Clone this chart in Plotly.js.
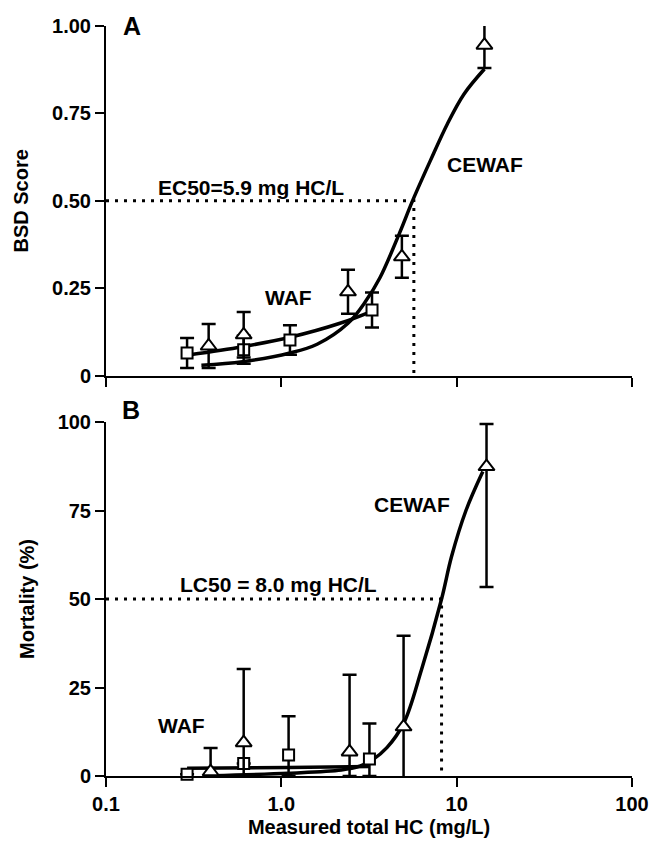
<!DOCTYPE html>
<html>
<head>
<meta charset="utf-8">
<script src="https://cdn.plot.ly/plotly-3.0.1.min.js"></script>
<style>html,body{margin:0;padding:0;background:#fff;}#chart{width:650px;height:844px;}</style>
</head>
<body>
<div id="chart"></div>
<script>
// ---------- Panel A : BSD score ----------
const wafA_x = [0.29, 0.61, 1.12, 3.29];
const wafA_y = [0.065, 0.074, 0.102, 0.188];
const wafA_err = [0.043, 0.04, 0.042, 0.05];

const cewafA_x = [0.385, 0.61, 2.4, 4.87, 14.4];
const cewafA_y = [0.085, 0.117, 0.24, 0.34, 0.945];
const cewafA_err = [0.063, 0.065, 0.063, 0.06, 0.065];

// fitted curves
const fitWafA_x = [0.3, 0.6, 1.12, 2.16, 3.3];
const fitWafA_y = [0.06, 0.083, 0.11, 0.15, 0.185];
const fitCewafA_x = [0.35, 0.6, 1.12, 1.6, 2.4, 3.0, 3.65, 4.74, 5.6, 7.08, 8.85, 11.0, 14.4];
const fitCewafA_y = [0.03, 0.04, 0.065, 0.09, 0.15, 0.21, 0.28, 0.41, 0.5, 0.615, 0.72, 0.805, 0.877];

const ec50 = 5.7;

// ---------- Panel B : Mortality ----------
const wafB_x = [0.29, 0.61, 1.1, 3.18];
const wafB_y = [0.5, 3.5, 5.9, 4.8];
const wafB_plus = [0, 0, 11, 10];
const wafB_minus = [0, 0, 5.9, 4.8];

const cewafB_x = [0.395, 0.61, 2.45, 4.98, 14.8];
const cewafB_y = [1.2, 9.4, 6.8, 13.9, 87.4];
const cewafB_plus = [6.7, 20.8, 21.8, 25.7, 12];
const cewafB_minus = [6.5, 9.4, 6.8, 18.5, 34];

const fitWafB_x = [0.29, 1.1, 3.2];
const fitWafB_y = [2.2, 2.4, 2.7];
const fitCewafB_x = [0.4, 1.1, 2.2, 2.8, 3.3, 4.0, 5.0, 6.3, 8.2, 9.35, 11.3, 14.1];
const fitCewafB_y = [0.1, 0.8, 1.7, 2.8, 4.5, 8, 15, 30, 50, 62, 75, 86];

const lc50 = 8.2;

const xTickVals = [0.1, 1, 10, 100];
const xTickText = ['0.1', '1.0', '10', '100'];
const yA_ticks = [0, 0.25, 0.5, 0.75, 1];
const yA_text = ['0', '0.25', '0.50', '0.75', '1.00'];
const yB_ticks = [0, 25, 50, 75, 100];
const yB_text = ['0', '25', '50', '75', '100'];

const FONT = 'Liberation Sans, Arial, sans-serif';
const bold = (s) => ({family: FONT, size: s, color: '#000', weight: 'bold'});

function errBar(plus, minus) {
  return {type: 'data', array: plus, arrayminus: minus, symmetric: false, visible: true,
          color: '#000', thickness: 2.5, width: 7};
}
function curve(x, y, xa, ya) {
  return {x: x, y: y, xaxis: xa, yaxis: ya, mode: 'lines', type: 'scatter',
          line: {color: '#000', width: 3.5, shape: 'spline', smoothing: 1}, hoverinfo: 'skip', showlegend: false};
}
function pts(x, y, plus, minus, sym, size, xa, ya) {
  return {x: x, y: y, xaxis: xa, yaxis: ya, mode: 'markers', type: 'scatter', cliponaxis: false,
          marker: {symbol: sym, size: size, color: '#fff', line: {color: '#000', width: 2}},
          error_y: errBar(plus, minus), showlegend: false};
}
const dotted = {color: '#000', width: 3, dash: '3px,6px'};

const traces = [
  {x: [0.1, ec50, ec50], y: [0.5, 0.5, 0], xaxis: 'x', yaxis: 'y', mode: 'lines', type: 'scatter', line: dotted, showlegend: false},
  curve(fitWafA_x, fitWafA_y, 'x', 'y'),
  curve(fitCewafA_x, fitCewafA_y, 'x', 'y'),
  pts(wafA_x, wafA_y, wafA_err, wafA_err, 'square', 11, 'x', 'y'),
  pts(cewafA_x, cewafA_y, cewafA_err, cewafA_err, 'triangle-up', 14, 'x', 'y'),
  {x: [0.1, lc50, lc50], y: [50, 50, 0], xaxis: 'x2', yaxis: 'y2', mode: 'lines', type: 'scatter', line: dotted, showlegend: false},
  curve(fitWafB_x, fitWafB_y, 'x2', 'y2'),
  curve(fitCewafB_x, fitCewafB_y, 'x2', 'y2'),
  pts(wafB_x, wafB_y, wafB_plus, wafB_minus, 'square', 11, 'x2', 'y2'),
  pts(cewafB_x, cewafB_y, cewafB_plus, cewafB_minus, 'triangle-up', 14, 'x2', 'y2')
];

const TF = 20;
const xCommon = {type: 'log', range: [-1, 2], showgrid: false, zeroline: false, showline: true,
  linecolor: '#000', linewidth: 2, ticks: 'outside', ticklen: 9, tickwidth: 2, tickcolor: '#000',
  tickmode: 'array', tickvals: xTickVals, ticktext: xTickText, tickfont: bold(TF)};
const yCommon = {showgrid: false, zeroline: false, showline: true, linecolor: '#000', linewidth: 2,
  ticks: 'outside', ticklen: 9, tickwidth: 2, tickcolor: '#000', tickmode: 'array', tickfont: bold(TF)};

const layout = {
  width: 650, height: 844,
  margin: {l: 106, r: 18, t: 26, b: 68},
  paper_bgcolor: '#fff', plot_bgcolor: '#fff',
  showlegend: false,
  font: {family: FONT, color: '#000'},
  xaxis: Object.assign({}, xCommon, {anchor: 'y', showticklabels: false}),
  yaxis: Object.assign({}, yCommon, {domain: [0.5337, 1], range: [0, 1], tickvals: yA_ticks, ticktext: yA_text,
    title: {text: 'BSD Score', font: bold(20), standoff: 18}}),
  xaxis2: Object.assign({}, xCommon, {anchor: 'y2',
    title: {text: 'Measured total HC (mg/L)', font: bold(20), standoff: 6}}),
  yaxis2: Object.assign({}, yCommon, {domain: [0, 0.472], range: [0, 100], tickvals: yB_ticks, ticktext: yB_text,
    title: {text: 'Mortality (%)', font: bold(20), standoff: 18}}),
  annotations: [
    {text: 'A', xref: 'paper', yref: 'paper', x: 0.05, y: 1.0, showarrow: false, font: bold(25), xanchor: 'center', yanchor: 'middle'},
    {text: 'EC50=5.9 mg HC/L', xref: 'x', yref: 'y', x: Math.log10(0.673), y: 0.537, showarrow: false, font: bold(21), xanchor: 'center', yanchor: 'middle'},
    {text: 'CEWAF', xref: 'x', yref: 'y', x: Math.log10(14.5), y: 0.603, showarrow: false, font: bold(21), xanchor: 'center', yanchor: 'middle'},
    {text: 'WAF', xref: 'x', yref: 'y', x: Math.log10(1.095), y: 0.225, showarrow: false, font: bold(21), xanchor: 'center', yanchor: 'middle'},
    {text: 'B', xref: 'paper', yref: 'paper', x: 0.047, y: 0.488, showarrow: false, font: bold(25), xanchor: 'center', yanchor: 'middle'},
    {text: 'LC50 = 8.0 mg HC/L', xref: 'x2', yref: 'y2', x: Math.log10(0.96), y: 54.0, showarrow: false, font: bold(21), xanchor: 'center', yanchor: 'middle'},
    {text: 'CEWAF', xref: 'x2', yref: 'y2', x: Math.log10(5.57), y: 76.6, showarrow: false, font: bold(21), xanchor: 'center', yanchor: 'middle'},
    {text: 'WAF', xref: 'x2', yref: 'y2', x: Math.log10(0.268), y: 14.4, showarrow: false, font: bold(21), xanchor: 'center', yanchor: 'middle'}
  ]
};

Plotly.newPlot('chart', traces, layout, {displayModeBar: false, staticPlot: true});
</script>
</body>
</html>
